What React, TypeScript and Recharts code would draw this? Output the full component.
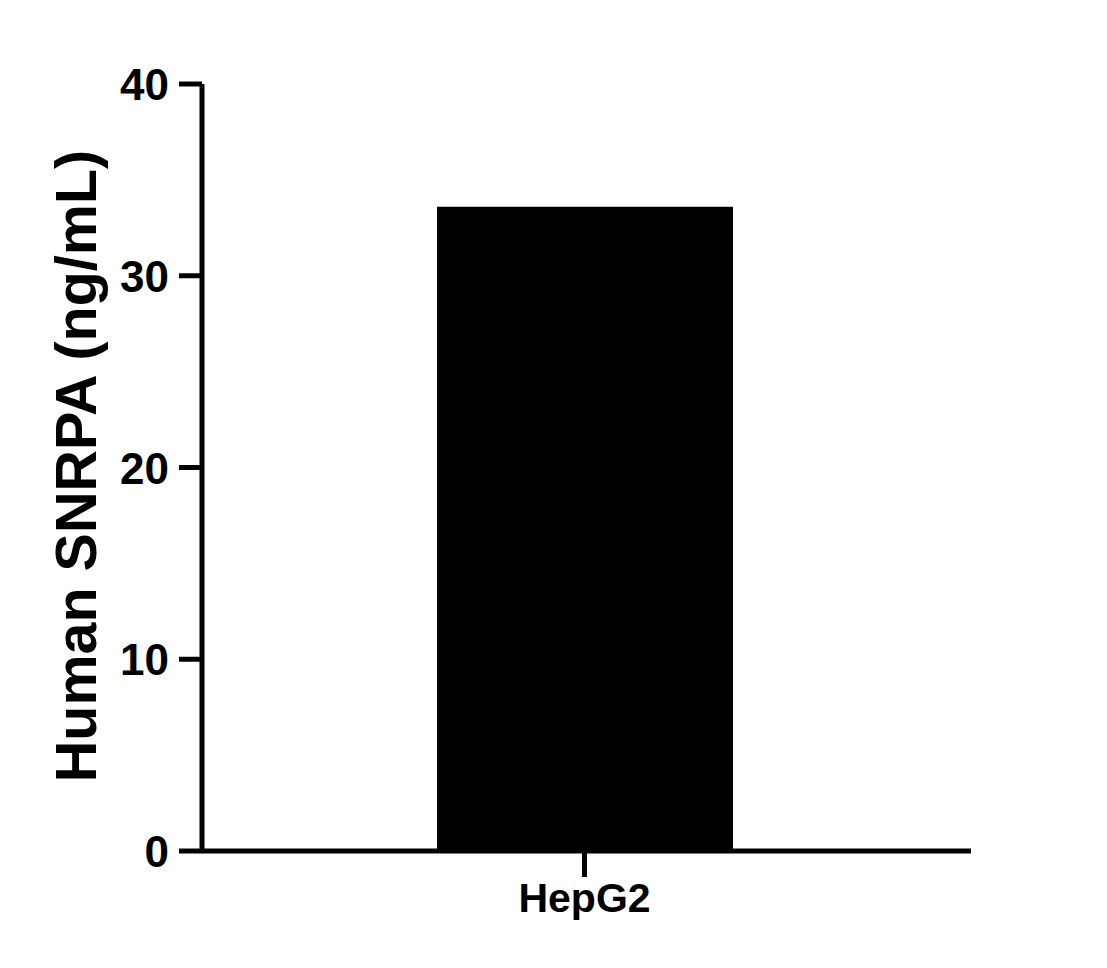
import { BarChart, Bar, XAxis, YAxis } from 'recharts'

const categories = ['HepG2']
const values = [33.6]
const yTicks = [0, 10, 20, 30, 40]

const data = categories.map((c, i) => ({ cell: c, conc: values[i] }))

const FONT = '"Liberation Sans", Arial, sans-serif'

const YTick = (props: any) => {
  const { x, y, payload } = props
  return (
    <text x={x - 2} y={y + 16} textAnchor="end" fontFamily={FONT} fontWeight="bold" fontSize={44} fill="#000">
      {payload.value}
    </text>
  )
}

const XTick = (props: any) => {
  const { x, y, payload } = props
  return (
    <text x={x} y={y + 35} textAnchor="middle" fontFamily={FONT} fontWeight="bold" fontSize={41} fill="#000">
      {payload.value}
    </text>
  )
}

export default function App() {
  return (
    <div style={{ position: 'absolute', left: 0, top: 0, background: '#fff' }}>
      <BarChart
        width={1107}
        height={968}
        data={data}
        margin={{ top: 84, right: 136, bottom: 57, left: 0 }}
      >
        <XAxis
          dataKey="cell"
          height={60}
          padding={{ left: 0, right: 4 }}
          axisLine={{ stroke: '#000', strokeWidth: 5 }}
          tickLine={{ stroke: '#000', strokeWidth: 5 }}
          tickSize={26}
          tickMargin={0}
          tick={<XTick />}
        />
        <YAxis
          width={202}
          domain={[0, 40]}
          ticks={yTicks}
          interval={0}
          axisLine={{ stroke: '#000', strokeWidth: 5 }}
          tickLine={{ stroke: '#000', strokeWidth: 5 }}
          tickSize={23}
          tickMargin={8}
          tick={<YTick />}
          label={() => (
            <text
              x={96}
              y={466}
              transform="rotate(-90, 96, 466)"
              textAnchor="middle"
              fontFamily={FONT}
              fontWeight="bold"
              fontSize={57.5}
              fill="#000"
            >
              Human SNRPA (ng/mL)
            </text>
          )}
        />
        <Bar dataKey="conc" fill="#000" barSize={296} isAnimationActive={false} />
      </BarChart>
    </div>
  )
}
